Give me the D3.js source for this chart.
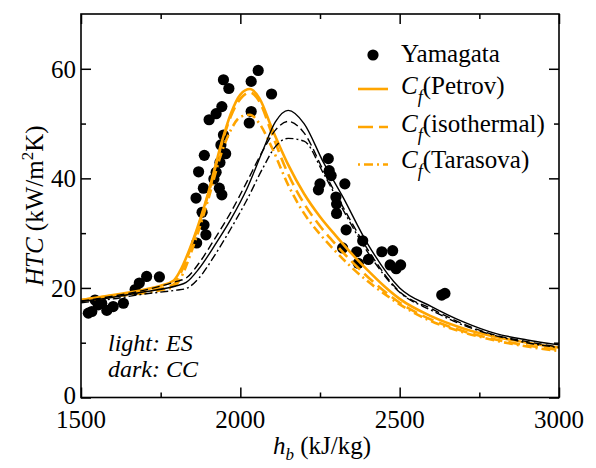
<!DOCTYPE html>
<html><head><meta charset="utf-8">
<script src="https://cdn.jsdelivr.net/npm/d3@7"></script>
<style>
body{margin:0;background:#fff}
svg{display:block}
</style>
</head><body>
<svg id="c" width="596" height="468"></svg>
<script>
// ---- ticks ----
const xMajorTicks = [1500, 2000, 2500, 3000];
const xMinorTicks = [1750, 2250, 2750];
const yMajorTicks = [0, 20, 40, 60];
const yMinorTicks = [10, 30, 50];

// ---- Yamagata experimental points ----
const yamH = [1523,1534,1544,1554,1565,1581,1601,1633,1670,1683,1706,1746,
  2056,1947,2034,1964,2098,1942,1924,1902,2034,2028,1947,1939,1954,1887,1936,1869,1924,1917,1884,1934,1942,1861,1880,1886,1892,1863,
  2276,2279,2285,2328,2250,2245,2300,2302,2302,2332,2384,2321,2365,2370,2402,2444,2478,2470,2503,2489,2632,2642];
const yamV = [15.4,15.7,17.8,16.9,17.2,15.9,16.6,17.2,19.7,20.9,22.1,22.0,
  59.7,58.0,57.7,56.4,55.4,53.1,51.8,50.7,52.2,50.1,47.9,46.1,44.5,44.2,42.9,41.2,41.1,39.9,38.2,38.2,37.0,36.4,33.8,31.5,29.7,28.2,
  43.6,41.4,40.5,39.0,39.0,37.9,36.6,35.3,33.6,30.6,28.6,27.3,26.6,24.5,25.2,26.6,26.8,24.2,24.2,23.5,18.7,19.0];

// ---- light (ES) curves ----
const esH = [1500,1600,1700,1750,1790,1810,1850,1900,1940,1970,2000,2030,2060,2100,2150,2200,2250,2300,2350,2400,2450,2500,2600,2700,2800,2900,3000];
const esPetrov = [17.8,18.7,19.7,20.4,21.3,23.0,28.5,37.5,46.3,51.8,55.3,56.3,54.6,49.0,42.5,37.2,33.0,29.5,26.2,23.2,20.4,18.0,14.8,12.6,11.1,10.0,9.1];
const esIso    = [17.8,18.6,19.4,19.9,20.6,22.4,28.2,37.2,46.0,51.3,54.5,55.7,54.0,48.0,40.8,35.4,31.3,27.9,24.8,22.0,19.5,17.3,14.2,12.1,10.6,9.5,8.7];
const esTara   = [17.6,18.4,19.1,19.6,20.2,21.5,27.2,36.3,44.5,48.8,51.2,51.6,50.0,45.5,38.8,33.6,29.8,26.6,23.7,21.2,19.0,17.0,13.9,11.9,10.4,9.3,8.5];

// ---- dark (CC) curves ----
const ccH = [1500,1600,1700,1800,1830,1870,1920,1970,2020,2070,2110,2150,2200,2260,2320,2400,2500,2600,2700,2800,2900,3000];
const ccPetrov = [17.5,18.3,19.3,20.4,21.0,23.5,27.8,32.5,38.0,45.0,50.3,52.4,50.0,43.0,36.8,28.0,20.0,16.6,13.8,11.7,10.5,9.6];
const ccIso    = [17.6,18.5,19.6,21.2,21.8,24.5,29.0,33.8,39.3,45.0,48.8,50.4,48.3,41.5,35.0,27.0,19.3,16.2,13.4,11.4,10.2,9.2];
const ccTara   = [17.3,18.0,18.9,19.6,19.9,21.8,26.0,30.8,36.0,41.8,45.8,47.3,46.8,41.0,34.5,26.5,19.2,15.9,13.2,11.3,10.0,9.1];

const legendLabels = ["Yamagata", "(Petrov)", "(isothermal)", "(Tarasova)"];
const ORANGE = "#FFA500";
const FONT = "'Liberation Serif'";

const svg = d3.select("#c");
const x = d3.scaleLinear().domain([1500, 3000]).range([81, 559]);
const y = d3.scaleLinear().domain([0, 70]).range([397.5, 14]);

svg.append("defs").append("clipPath").attr("id", "clip")
  .append("rect").attr("x", x(1500)).attr("y", y(70))
  .attr("width", x(3000) - x(1500)).attr("height", y(0) - y(70));

function txt(px, py, size, anchor) {
  return svg.append("text").attr("x", px).attr("y", py).attr("font-size", size)
    .attr("text-anchor", anchor || "start").style("font-family", FONT).attr("fill", "#000");
}

// ---- points ----
svg.append("g").attr("clip-path", "url(#clip)")
  .selectAll("circle").data(yamH.map((h, i) => [h, yamV[i]])).join("circle")
  .attr("cx", d => x(d[0])).attr("cy", d => y(d[1])).attr("r", 5.6).attr("fill", "#000");

// ---- curves ----
const line = d3.line().x(d => x(d[0])).y(d => y(d[1])).curve(d3.curveMonotoneX);
const series = [
  {h: esH, v: esTara,   c: ORANGE, w: 2.6, dash: "9,4,2,4"},
  {h: esH, v: esIso,    c: ORANGE, w: 2.6, dash: "12,6"},
  {h: esH, v: esPetrov, c: ORANGE, w: 2.6, dash: null},
  {h: ccH, v: ccTara,   c: "#000", w: 1.4, dash: "8,3,2,3"},
  {h: ccH, v: ccIso,    c: "#000", w: 1.4, dash: "8,4"},
  {h: ccH, v: ccPetrov, c: "#000", w: 1.4, dash: null}
];
const cg = svg.append("g").attr("clip-path", "url(#clip)");
series.forEach(s => {
  cg.append("path").datum(s.h.map((h, i) => [h, s.v[i]]))
    .attr("d", line).attr("fill", "none").attr("stroke", s.c)
    .attr("stroke-width", s.w).attr("stroke-dasharray", s.dash);
});

// ---- axes (inward ticks on all sides) ----
function ax(gen, tr) {
  svg.append("g").attr("transform", tr).call(gen).call(g => {
    g.select(".domain").remove();
    g.selectAll("text").remove();
    g.selectAll("line").attr("stroke", "#000").attr("stroke-width", 1.5);
  });
}
ax(d3.axisBottom(x).tickValues(xMajorTicks).tickSize(-10), `translate(0,${y(0)})`);
ax(d3.axisBottom(x).tickValues(xMinorTicks).tickSize(-5), `translate(0,${y(0)})`);
ax(d3.axisTop(x).tickValues(xMajorTicks).tickSize(-10), `translate(0,${y(70)})`);
ax(d3.axisTop(x).tickValues(xMinorTicks).tickSize(-5), `translate(0,${y(70)})`);
ax(d3.axisLeft(y).tickValues(yMajorTicks).tickSize(-10), `translate(${x(1500)},0)`);
ax(d3.axisLeft(y).tickValues(yMinorTicks).tickSize(-5), `translate(${x(1500)},0)`);
ax(d3.axisRight(y).tickValues(yMajorTicks).tickSize(-10), `translate(${x(3000)},0)`);
ax(d3.axisRight(y).tickValues(yMinorTicks).tickSize(-5), `translate(${x(3000)},0)`);

svg.append("rect").attr("x", x(1500)).attr("y", y(70))
  .attr("width", x(3000) - x(1500)).attr("height", y(0) - y(70))
  .attr("fill", "none").attr("stroke", "#000").attr("stroke-width", 1.6);

// tick labels
xMajorTicks.forEach(t => txt(x(t), 428, 25, "middle").text(t));
yMajorTicks.forEach(t => txt(76, y(t) + (t === 0 ? 6 : 9), 25, "end").text(t));

// axis titles
{
  const t = txt(322, 454, 25, "middle");
  t.append("tspan").style("font-style", "italic").text("h");
  t.append("tspan").style("font-style", "italic").attr("font-size", 17).attr("dy", 6).text("b");
  t.append("tspan").attr("dy", -6).text(" (kJ/kg)");
}
{
  const t = txt(43, y(35), 25, "middle").attr("transform", `rotate(-90,43,${y(35)})`);
  t.append("tspan").style("font-style", "italic").text("HTC");
  t.append("tspan").text(" (kW/m");
  t.append("tspan").attr("font-size", 17).attr("dy", -10).text("2");
  t.append("tspan").attr("dy", 10).text("K)");
}

// annotation
txt(108, 350.5, 24).style("font-style", "italic").text("light: ES");
txt(108, 377, 24).style("font-style", "italic").text("dark: CC");

// ---- legend ----
svg.append("circle").attr("cx", 373).attr("cy", 55).attr("r", 5.6).attr("fill", "#000");
txt(401, 62, 25).text(legendLabels[0]);
const legRows = [
  {ly: 89, ty: 93.5, dash: null, label: legendLabels[1]},
  {ly: 127, ty: 131.5, dash: "15,6", label: legendLabels[2]},
  {ly: 164.5, ty: 168, dash: "2,4,9,4", label: legendLabels[3]}
];
legRows.forEach(r => {
  svg.append("line").attr("x1", 358).attr("x2", 388).attr("y1", r.ly).attr("y2", r.ly)
    .attr("stroke", ORANGE).attr("stroke-width", 2.6).attr("stroke-dasharray", r.dash);
  const t = txt(401, r.ty, 25);
  t.append("tspan").style("font-style", "italic").text("C");
  t.append("tspan").style("font-style", "italic").attr("font-size", 18).attr("dy", 9).text("f");
  t.append("tspan").attr("dy", -9).text(r.label);
});
</script>
</body></html>
